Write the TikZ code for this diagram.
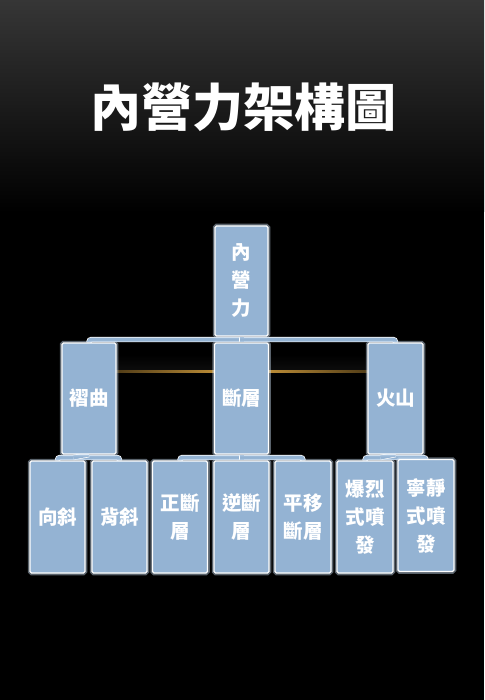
\documentclass[tikz,border=0pt]{standalone}
\usepackage{fontspec}
\newfontfamily\cjk{Noto Sans CJK TC}
\usetikzlibrary{calc}
\definecolor{bgtop}{RGB}{54,54,54}
\definecolor{boxblue}{RGB}{148,179,211}
\definecolor{glowblue}{RGB}{200,220,240}
\definecolor{gold}{RGB}{214,160,62}
\pgfdeclarelayer{bg}
\pgfdeclarelayer{conn}
\pgfsetlayers{bg,conn,main}
\tikzset{
  box/.style={draw=white, line width=1.2pt, fill=boxblue, rounded corners=1.5pt,
    minimum width=54pt, minimum height=111pt, inner sep=0pt, text=white,
    align=center, font=\cjk\bfseries\fontsize{19.5}{28}\selectfont,
    preaction={draw=glowblue, line width=4.5pt, opacity=0.45}},
  conn/.style={draw=white, line width=0.7pt, double=boxblue, double distance=4pt,
    rounded corners=2.5pt},
  titletext/.style={text=white, font=\cjk\bfseries\fontsize{51}{60}\selectfont}
}
\begin{document}
\begin{tikzpicture}[x=1pt,y=-1pt]
\useasboundingbox (0,0) rectangle (484,700);
\begin{pgfonlayer}{bg}
  \shade[top color=bgtop, bottom color=black] (0,0) rectangle (484,212);
  \fill[black] (0,211) rectangle (484,700);
  % faint glow above the gold line
  \shade[top color=black, bottom color=black!92!white, opacity=0.6] (110,354) rectangle (374,370);
  \shade[left color=gold!30!black, right color=gold!30!black, middle color=gold] (100,370.2) rectangle (384,372.2);
\end{pgfonlayer}

\node[titletext] (title) at (243,107) {內營力架構圖};

\node[box, minimum width=53pt, minimum height=110pt] (top) at (241.5,281) {內\\營\\力};

\node[box] (zq) at (89,398.5) {褶曲};
\node[box] (dc) at (241.5,398.5) {斷層};
\node[box, minimum width=55pt] (hs) at (395.5,398.5) {火山};

\node[box, minimum width=55pt, minimum height=112pt] (xx) at (57.5,517) {向斜};
\node[box, minimum width=55pt, minimum height=112pt] (bx) at (119.5,517) {背斜};
\node[box, minimum width=55pt, minimum height=112pt] (zd) at (180,517) {正斷\\層};
\node[box, minimum width=55pt, minimum height=112pt] (nd) at (241.5,517) {逆斷\\層};
\node[box, minimum width=56pt, minimum height=112pt] (py) at (303,517) {平移\\斷層};
\node[box, minimum width=56pt, minimum height=112pt] (bl) at (365,517) {爆烈\\式噴\\發};
\node[box, minimum width=56pt, minimum height=112pt] (nj) at (426,515.5) {寧靜\\式噴\\發};

\begin{pgfonlayer}{conn}
  \coordinate (m1) at ($(top.south)!0.5!(dc.north)$);
  \draw[conn] (zq.north) |- (m1) -| (hs.north);
  \draw[conn] (top.south) -- (dc.north);
  \coordinate (m2) at ($(zq.south)!0.5!(xx.north)$);
  \draw[conn] (xx.north) |- (m2) -| (bx.north);
  \draw[conn] (zq.south) -- (m2);
  \coordinate (m3) at ($(dc.south)!0.5!(nd.north)$);
  \draw[conn] (zd.north) |- (m3) -| (py.north);
  \draw[conn] (dc.south) -- (nd.north);
  \coordinate (m4) at ($(hs.south)!0.5!(bl.north)$);
  \draw[conn] (bl.north) |- (m4) -| (nj.north);
  \draw[conn] (hs.south) -- (m4);
\end{pgfonlayer}
\end{tikzpicture}
\end{document}
